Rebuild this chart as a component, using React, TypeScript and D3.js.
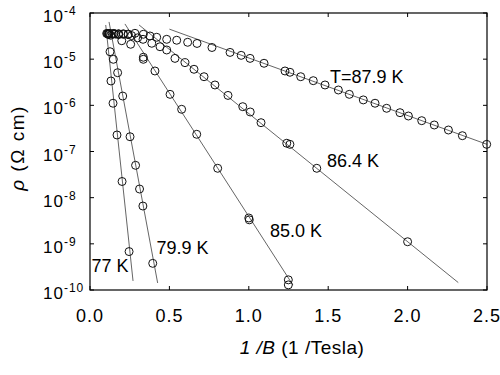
import React from "react";
import * as d3 from "d3";

// ---- data (x = 1/B in 1/Tesla, rho in Ohm cm) ----
const x77 = [0.105, 0.112, 0.118, 0.126, 0.132, 0.145, 0.17, 0.202, 0.246];
const r77 = [3.6e-5, 3.55e-5, 3.4e-5, 1.45e-5, 3.37e-6, 1.11e-6, 2.28e-7, 2.24e-8, 6.8e-10];

const x799 = [0.11, 0.12, 0.13, 0.147, 0.174, 0.206, 0.252, 0.287, 0.312, 0.333, 0.395];
const r799 = [3.6e-5, 3.5e-5, 3.3e-5, 9.93e-6, 5.09e-6, 1.59e-6, 2.09e-7, 5.02e-8, 1.54e-8, 6.59e-9, 3.78e-10];

const x850 = [0.12, 0.14, 0.16, 0.18, 0.2, 0.256, 0.336, 0.336, 0.409, 0.504, 0.577, 0.672, 0.804, 1.0, 1.003, 1.249, 1.249];
const r850 = [3.6e-5, 3.55e-5, 3.5e-5, 3.4e-5, 2.51e-5, 2.1e-5, 1.1e-5, 9.93e-6, 5.55e-6, 1.73e-6, 8.2e-7, 2.36e-7, 4.33e-8, 3.63e-9, 3.31e-9, 1.66e-10, 1.29e-10];

const x864 = [0.12, 0.15, 0.18, 0.21, 0.24, 0.262, 0.3, 0.334, 0.389, 0.441, 0.483, 0.535, 0.598, 0.655, 0.718, 0.787, 0.869, 0.962, 1.009, 1.077, 1.239, 1.259, 1.428, 2.0];
const r864 = [3.6e-5, 3.55e-5, 3.5e-5, 3.45e-5, 3.4e-5, 3.24e-5, 2.9e-5, 2.69e-5, 2.21e-5, 1.86e-5, 1.58e-5, 1.04e-5, 8.4e-6, 6.04e-6, 4.17e-6, 2.76e-6, 1.64e-6, 9.35e-7, 7.18e-7, 4.21e-7, 1.51e-7, 1.43e-7, 4.33e-8, 1.11e-9];

const x879 = [0.12, 0.15, 0.18, 0.21, 0.24, 0.283, 0.336, 0.378, 0.42, 0.483, 0.546, 0.615, 0.674, 0.768, 0.882, 0.952, 1.008, 1.096, 1.228, 1.259, 1.327, 1.406, 1.48, 1.564, 1.633, 1.721, 1.795, 1.868, 1.952, 2.005, 2.089, 2.168, 2.257, 2.345, 2.498];
const r879 = [3.6e-5, 3.6e-5, 3.55e-5, 3.55e-5, 3.5e-5, 3.63e-5, 3.46e-5, 3.18e-5, 2.98e-5, 2.69e-5, 2.57e-5, 2.32e-5, 2.19e-5, 1.79e-5, 1.4e-5, 1.21e-5, 1.04e-5, 8.15e-6, 5.55e-6, 5.2e-6, 4.17e-6, 3.42e-6, 2.76e-6, 2.15e-6, 1.73e-6, 1.31e-6, 1.11e-6, 8.63e-7, 6.93e-7, 5.87e-7, 4.65e-7, 3.75e-7, 2.92e-7, 2.2e-7, 1.43e-7];

// fitted lines (end points)
const fitX77 = [0.099, 0.271];
const fitR77 = [5.5e-5, 1.57e-10];
const fitX799 = [0.12, 0.426];
const fitR799 = [6.4e-5, 1.42e-10];
const fitX850 = [0.22, 1.278];
const fitR850 = [5.8e-5, 1.28e-10];
const fitX864 = [0.309, 2.319];
const fitR864 = [5.5e-5, 1.45e-10];
const fitX879 = [0.5, 2.5];
const fitR879 = [4.47e-5, 1.43e-7];

const seriesLabels = ["77 K", "79.9 K", "85.0 K", "86.4 K", "T=87.9 K"];
const xTicks = [0, 0.5, 1.0, 1.5, 2.0, 2.5];
const yExps = [-4, -5, -6, -7, -8, -9, -10];

const W = 500, H = 375;
const L = 90, R = 487, T = 13, B = 290;

export default function App() {
  const x = d3.scaleLinear().domain([0, 2.5]).range([L, R]);
  const y = d3.scaleLog().domain([1e-10, 1e-4]).range([B, T]);

  const series = [
    { xs: x77, rs: r77, fx: fitX77, fr: fitR77 },
    { xs: x799, rs: r799, fx: fitX799, fr: fitR799 },
    { xs: x850, rs: r850, fx: fitX850, fr: fitR850 },
    { xs: x864, rs: r864, fx: fitX864, fr: fitR864 },
    { xs: x879, rs: r879, fx: fitX879, fr: fitR879 },
  ];
  const labelPos = [
    [91.5, 272],
    [156.5, 253.5],
    [270, 237],
    [327, 166.5],
    [330, 83],
  ];

  const line = d3
    .line<[number, number]>()
    .x((d) => x(d[0]))
    .y((d) => y(d[1]));

  const font = "'Liberation Sans', Arial, sans-serif";
  const tickLen = 4;

  return (
    <svg
      width={W}
      height={H}
      style={{ position: "absolute", left: 0, top: 0, background: "#fff" }}
      fontFamily={font}
    >
      <rect x={0} y={0} width={W} height={H} fill="#fff" />
      {/* fitted lines */}
      {series.map((s, i) => (
        <path
          key={"f" + i}
          d={line(s.fx.map((v, j) => [v, s.fr[j]] as [number, number])) || ""}
          fill="none"
          stroke="#222"
          strokeWidth={0.7}
        />
      ))}
      {/* points */}
      {series.map((s, i) =>
        s.xs.map((v, j) => (
          <circle
            key={"p" + i + "-" + j}
            cx={x(v)}
            cy={y(s.rs[j])}
            r={4}
            fill="none"
            stroke="#111"
            strokeWidth={1}
          />
        ))
      )}
      {/* frame */}
      <rect x={L} y={T} width={R - L} height={B - T} fill="none" stroke="#000" strokeWidth={1.2} />
      {/* x ticks */}
      {xTicks.map((t) => (
        <g key={"xt" + t}>
          <line x1={x(t)} x2={x(t)} y1={B} y2={B - tickLen} stroke="#000" strokeWidth={1} />
          <line x1={x(t)} x2={x(t)} y1={T} y2={T + tickLen} stroke="#000" strokeWidth={1} />
          <text x={x(t)} y={322} textAnchor="middle" fontSize={18} letterSpacing={1}>
            {t.toFixed(1)}
          </text>
        </g>
      ))}
      {/* y ticks */}
      {yExps.map((e) => {
        const yy = y(Math.pow(10, e));
        return (
          <g key={"yt" + e}>
            <line x1={L} x2={L + tickLen} y1={yy} y2={yy} stroke="#000" strokeWidth={1} />
            <line x1={R} x2={R - tickLen} y1={yy} y2={yy} stroke="#000" strokeWidth={1} />
            <text x={43} y={yy + 9} fontSize={17} letterSpacing={1}>
              10
              <tspan dy={-7} fontSize={12}>
                {String(e)}
              </tspan>
            </text>
          </g>
        );
      })}
      {/* series labels */}
      {seriesLabels.map((s, i) => (
        <text key={"l" + i} x={labelPos[i][0]} y={labelPos[i][1]} fontSize={18}>
          {s}
        </text>
      ))}
      {/* axis titles */}
      <text x={302} y={354} textAnchor="middle" fontSize={19} letterSpacing={0.5}>
        <tspan fontStyle="italic">1 /B</tspan>
        <tspan> (1 /Tesla)</tspan>
      </text>
      <text
        transform="translate(24,148) rotate(-90)"
        textAnchor="middle"
        fontSize={19}
        letterSpacing={1.5}
      >
        <tspan fontStyle="italic">ρ</tspan>
        <tspan> (Ω cm)</tspan>
      </text>
    </svg>
  );
}
